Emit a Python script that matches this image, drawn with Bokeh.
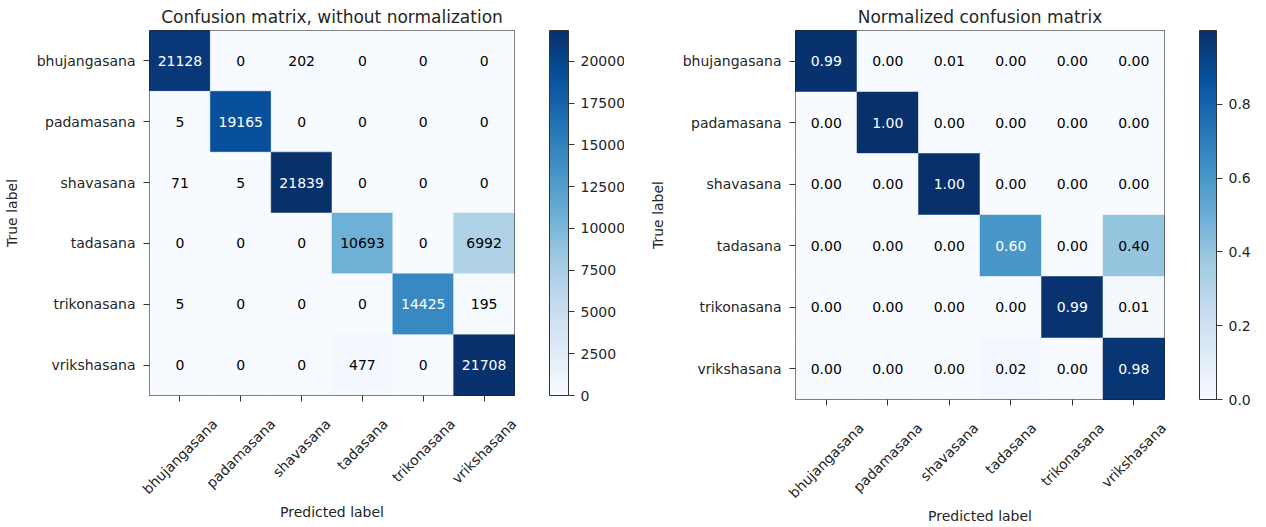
import math
import numpy as np
from bokeh.plotting import figure
from bokeh.models import (ColumnDataSource, LinearColorMapper, ColorBar, FixedTicker,
                          Range1d, PrintfTickFormatter, LinearAxis, CustomJSTickFormatter)
from bokeh.layouts import row
from bokeh.palettes import Blues256
from bokeh.core.properties import value
from bokeh.embed import file_html
from bokeh.resources import INLINE

# ---------------- data ----------------
classes = ["bhujangasana", "padamasana", "shavasana", "tadasana", "trikonasana", "vrikshasana"]
true_bhujangasana = [21128, 0, 202, 0, 0, 0]
true_padamasana = [5, 19165, 0, 0, 0, 0]
true_shavasana = [71, 5, 21839, 0, 0, 0]
true_tadasana = [0, 0, 0, 10693, 0, 6992]
true_trikonasana = [5, 0, 0, 0, 14425, 195]
true_vrikshasana = [0, 0, 0, 477, 0, 21708]
counts = [true_bhujangasana, true_padamasana, true_shavasana,
          true_tadasana, true_trikonasana, true_vrikshasana]
count_ticks = [0, 2500, 5000, 7500, 10000, 12500, 15000, 17500, 20000]
norm_ticks = [0.0, 0.2, 0.4, 0.6, 0.8]

FONT = "DejaVu Sans"
PALETTE = list(reversed(Blues256))
TXT = "#262626"

# approximate DejaVu Sans advance widths (em)
CW = dict(a=.613, b=.635, c=.550, d=.635, e=.615, f=.352, g=.635, h=.634, i=.278, j=.278,
          k=.579, l=.278, m=.974, n=.634, o=.612, p=.635, q=.635, r=.411, s=.521, t=.392,
          u=.634, v=.592, w=.818, x=.592, y=.592, z=.525)


def text_len(s, size):
    return sum(CW.get(ch, 0.6) for ch in s) * size


def style_axis(ax):
    ax.axis_line_color = None
    ax.major_tick_out = 6
    ax.major_tick_in = 0
    ax.major_tick_line_color = "#333333"
    ax.minor_tick_line_color = None
    ax.major_label_text_font = FONT
    ax.major_label_text_font_size = "14px"
    ax.major_label_text_color = TXT
    ax.axis_label_text_font = FONT
    ax.axis_label_text_font_size = "14px"
    ax.axis_label_text_font_style = "normal"
    ax.axis_label_text_color = TXT


def panel(title, mat, fmt, ticks, tick_fmt, fw, fh, left, top, right, bottom, cb_dx, cb_w):
    n = len(classes)
    mat = np.asarray(mat, dtype=float)
    vmax = mat.max()
    mapper = LinearColorMapper(palette=PALETTE, low=0, high=vmax)
    xs, ys, vals, labels, tcol = [], [], [], [], []
    for i in range(n):
        for j in range(n):
            xs.append(j)
            ys.append(i)
            vals.append(mat[i, j])
            labels.append(fmt(mat[i, j]))
            tcol.append("white" if mat[i, j] > vmax / 2 else "black")
    src = ColumnDataSource(dict(x=xs, y=ys, v=vals, t=labels, c=tcol))

    p = figure(frame_width=fw, frame_height=fh,
               x_range=Range1d(-0.5, n - 0.5), y_range=Range1d(n - 0.5, -0.5),
               min_border_left=left, min_border_top=top, min_border_right=right,
               min_border_bottom=bottom, output_backend="svg", toolbar_location=None,
               title=title)
    p.rect("x", "y", 1, 1, source=src,
           fill_color={"field": "v", "transform": mapper},
           line_color={"field": "v", "transform": mapper}, line_width=0.5)
    p.text("x", "y", text="t", source=src, text_color="c", text_align="center",
           text_baseline="middle", text_font=value(FONT), text_font_size="14px")

    p.grid.visible = False
    p.outline_line_color = "#222222"
    p.outline_line_width = 1

    p.title.align = "center"
    p.title.text_font = FONT
    p.title.text_font_size = "17px"
    p.title.text_font_style = "normal"
    p.title.text_color = TXT
    p.title.standoff = 8

    for ax in (p.xaxis[0], p.yaxis[0]):
        ax.ticker = FixedTicker(ticks=list(range(n)))
        style_axis(ax)

    # tick marks only on the primary x axis
    p.xaxis[0].major_label_overrides = {i: "" for i in range(n)}
    p.xaxis[0].major_label_text_font_size = "0px"
    p.xaxis[0].major_label_standoff = 0

    p.yaxis.major_label_overrides = {i: c for i, c in enumerate(classes)}
    p.yaxis.major_label_standoff = 8
    p.yaxis.axis_label = "True label"
    p.yaxis.axis_label_standoff = 14

    # rotated category labels: anchored at their end so that each label is centred under its tick
    cell = fw / n
    pos = [i + 0.3536 * text_len(c, 14) / cell for i, c in enumerate(classes)]
    axb = LinearAxis(ticker=FixedTicker(ticks=pos),
                     formatter=CustomJSTickFormatter(args=dict(names=classes),
                                                     code="return names[index]"))
    style_axis(axb)
    axb.major_tick_line_color = None
    axb.major_tick_out = 0
    axb.major_label_orientation = math.pi / 4
    axb.major_label_standoff = 20
    axb.axis_label = "Predicted label"
    axb.axis_label_standoff = -2
    p.add_layout(axb, "below")

    cb = ColorBar(color_mapper=mapper, ticker=FixedTicker(ticks=ticks),
                  formatter=PrintfTickFormatter(format=tick_fmt),
                  location=(cb_dx, 0), width=cb_w, height=fh, padding=0, margin=0,
                  major_tick_out=6, major_tick_in=0, major_tick_line_color="#333333",
                  minor_tick_line_color=None, bar_line_color="#333333",
                  label_standoff=6, major_label_text_font=FONT,
                  major_label_text_font_size="14px", major_label_text_color=TXT,
                  border_line_color=None, background_fill_color=None)
    p.add_layout(cb)
    return p


mat_counts = np.array(counts, dtype=float)
mat_norm = mat_counts / mat_counts.sum(axis=1, keepdims=True)

p1 = panel("Confusion matrix, without normalization", mat_counts,
           lambda v: "%d" % v, count_ticks, "%d",
           365, 365, 145, 29, 110, 117, 400, 19)
p2 = panel("Normalized confusion matrix", mat_norm,
           lambda v: "%.2f" % v, norm_ticks, "%.1f",
           369, 369, 171, 25, 90, 117, 404, 17)

layout = row(p1, p2)
open("out.html", "w").write(file_html(layout, INLINE))
